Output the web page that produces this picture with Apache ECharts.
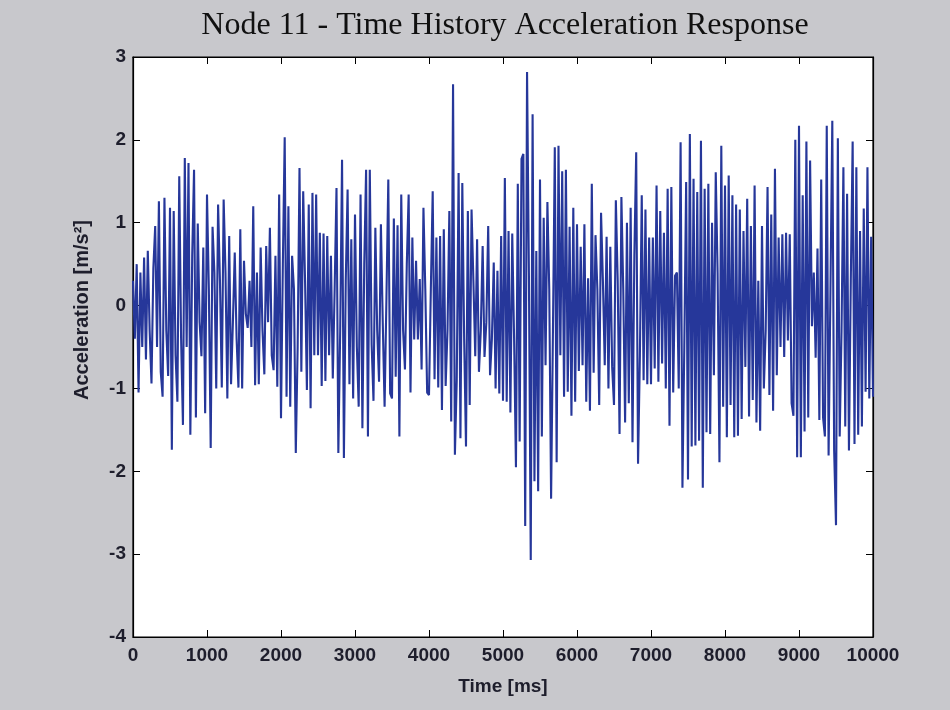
<!DOCTYPE html>
<html><head><meta charset="utf-8">
<script src="https://cdn.jsdelivr.net/npm/echarts@6/dist/echarts.min.js"></script>
<style>html,body{margin:0;padding:0;background:#c8c8cc}#c{width:950px;height:710px}</style>
</head><body><div id="c"></div>
<script>
const chartTitle = "Node 11 - Time History Acceleration Response";
const xName = "Time [ms]";
const yName = "Acceleration [m/s\u00B2]";
const timeStart = 0;
const timeEnd = 10000;
const xTickStep = 1000;
const yMin = -4, yMax = 3, yTickStep = 1;
// acceleration samples (m/s^2), evenly spaced over 0..10000 ms
const accel = [
 0.3,-0.4,0.5,-1.05,0.4,-0.5,0.58,-0.65,0.66,-0.3,-0.94,0.45,0.96,-0.5,1.26,-0.8,-1.1,1.3,-0.3,-0.85,
 1.18,-1.74,1.14,-0.6,-1.16,1.56,-0.4,-1.44,1.78,-0.5,1.72,-1.56,0.6,1.64,-1.35,0.99,-0.2,-0.61,0.7,-1.3,
 1.34,0.2,-1.72,0.95,0.4,-1.0,1.22,0.3,-0.99,1.28,0.4,-1.12,0.84,-0.95,-0.2,0.64,-0.4,-0.99,0.92,-1.0,
 0.54,-0.1,-0.27,0.3,-0.5,1.2,-0.96,0.4,-0.95,0.7,-0.3,-0.83,0.72,-0.2,0.94,-0.6,-0.78,0.6,-0.98,1.34,
 -1.36,0.5,2.03,-1.1,1.2,-1.22,0.6,0.2,-1.78,-0.5,1.66,-0.8,1.38,0.3,-1.02,1.22,-1.24,1.36,-0.6,1.34,
 -0.6,0.88,-0.97,0.87,-0.91,0.84,-0.6,0.6,-0.88,0.2,1.42,-1.78,-0.3,1.76,-1.84,0.3,1.4,-0.95,0.8,-1.12,
 1.1,-0.5,-1.22,1.34,-1.48,0.5,1.64,-1.58,1.64,-0.47,-1.15,0.94,-0.3,-0.92,0.98,-0.2,-1.22,0.1,1.52,-1.06,
 -1.12,1.05,-0.86,0.97,-1.58,1.34,-0.3,-0.77,0.5,1.34,-1.05,0.82,-0.41,0.54,-0.41,0.32,-0.77,1.18,0.2,-1.05,
 -1.08,0.2,1.38,-0.89,0.82,-0.99,0.84,-1.26,0.92,-0.97,-0.3,1.14,-1.4,2.67,-1.8,-0.9,1.6,-1.6,1.48,-0.4,
 -1.7,1.14,-1.2,1.16,0.3,-0.61,0.8,-0.8,-0.3,0.72,-0.62,-0.2,0.96,-0.84,-0.4,0.52,-1.0,0.42,-1.06,0.84,
 -1.15,1.54,-1.16,0.9,-1.29,0.87,-0.4,-1.95,1.47,-1.64,1.77,1.83,-2.66,2.82,0.4,-3.07,2.31,-2.12,0.66,-2.24,
 1.52,-1.58,1.06,-0.72,1.25,0.2,-2.33,-0.3,1.91,-1.89,1.93,-0.6,1.62,-1.1,1.64,-1.04,0.95,-1.33,1.18,-1.16,
 0.98,-0.79,0.71,-0.72,0.98,-1.16,0.33,-1.27,1.47,-0.81,0.85,0.2,-1.2,1.12,0.3,-0.72,0.83,-1.0,0.71,-0.74,
 -1.2,1.27,0.3,-1.55,1.31,0.2,-1.41,1.0,-1.18,1.18,-1.65,0.6,1.85,-1.91,-0.6,1.33,-0.9,1.16,-0.95,0.82,
 -0.95,0.82,-0.76,1.45,-0.92,1.14,-0.7,0.88,-1.0,1.41,-1.45,1.43,-1.05,0.36,0.4,-1.0,1.97,-2.2,-0.5,1.49,
 -2.1,2.07,-1.7,1.53,-1.69,1.37,-1.63,1.99,-2.2,1.41,-1.53,1.47,-1.55,1.0,-0.84,1.61,0.4,-1.89,1.93,-1.22,
 1.45,-1.59,1.57,-1.2,1.33,-1.59,1.22,-1.57,1.16,-1.37,0.9,-0.74,1.29,-1.34,0.96,-1.14,1.45,-1.41,0.3,-1.51,
 0.96,-1.0,-0.3,1.43,-1.08,1.1,-1.27,1.65,-0.84,0.82,-0.5,0.86,-0.62,0.88,-0.42,0.86,-1.18,-1.33,2.0,-1.83,
 2.17,-1.83,1.33,-1.52,1.98,-1.35,1.75,-0.25,0.4,-0.63,0.69,-1.38,1.52,-1.35,-1.58,2.17,-1.81,0.2,2.23,-1.75,
 -2.65,2.02,-1.58,-0.3,1.67,-1.46,1.35,-1.75,0.3,1.98,-1.67,1.67,-1.56,0.9,-1.46,1.17,-1.04,1.67,-1.12,0.83,-1.1
];

const dt = (timeEnd - timeStart) / (accel.length - 1);
const seriesData = accel.map((v, i) => [timeStart + i * dt, v]);

const labelFont = { fontFamily: 'Liberation Sans', fontSize: 19, fontWeight: 'bold', color: '#1e1e2c' };
const tickStyle = { show: true, inside: true, length: 7, lineStyle: { color: '#000', width: 1 } };
const lineStyleAxis = { show: true, onZero: false, lineStyle: { color: '#000', width: 1.2 } };
const plainNum = v => String(v);

const chart = echarts.init(document.getElementById('c'), null, { renderer: 'canvas' });
chart.setOption({
  animation: false,
  backgroundColor: '#c8c8cc',
  title: {
    text: chartTitle, left: 500, top: 5, textAlign: 'center',
    textStyle: { fontFamily: 'Liberation Serif', fontSize: 32, fontWeight: 'normal', color: '#101010' }
  },
  grid: { left: 133, right: 77, top: 57, bottom: 73, show: true, backgroundColor: '#ffffff', borderColor: '#000', borderWidth: 1.2 },
  xAxis: [
    { type: 'value', position: 'bottom', min: timeStart, max: timeEnd, interval: xTickStep,
      name: xName, nameLocation: 'middle', nameGap: 40,
      nameTextStyle: { fontFamily: 'Liberation Sans', fontSize: 19, fontWeight: 'bold', color: '#1e1e2c' },
      axisLine: lineStyleAxis, axisTick: tickStyle, splitLine: { show: false },
      axisLabel: Object.assign({ margin: 9, formatter: plainNum }, labelFont) },
    { type: 'value', position: 'top', min: timeStart, max: timeEnd, interval: xTickStep,
      axisLine: lineStyleAxis, axisTick: tickStyle, splitLine: { show: false }, axisLabel: { show: false } }
  ],
  yAxis: [
    { type: 'value', position: 'left', min: yMin, max: yMax, interval: yTickStep,
      axisLine: lineStyleAxis, axisTick: tickStyle, splitLine: { show: false },
      axisLabel: Object.assign({ margin: 7, formatter: plainNum }, labelFont) },
    { type: 'value', position: 'right', min: yMin, max: yMax, interval: yTickStep,
      axisLine: lineStyleAxis, axisTick: tickStyle, splitLine: { show: false }, axisLabel: { show: false } }
  ],
  graphic: [{
    type: 'text', x: 82, y: 310, rotation: Math.PI / 2,
    style: { text: yName, fontFamily: 'Liberation Sans', fontSize: 20, fontWeight: 'bold', fill: '#1e1e2c',
             textAlign: 'center', textVerticalAlign: 'middle' }
  }],
  series: [{
    type: 'line', xAxisIndex: 0, yAxisIndex: 0, data: seriesData, showSymbol: false,
    sampling: null, smooth: false,
    lineStyle: { color: '#26379a', width: 2.1 }
  }]
});
</script>
</body></html>
